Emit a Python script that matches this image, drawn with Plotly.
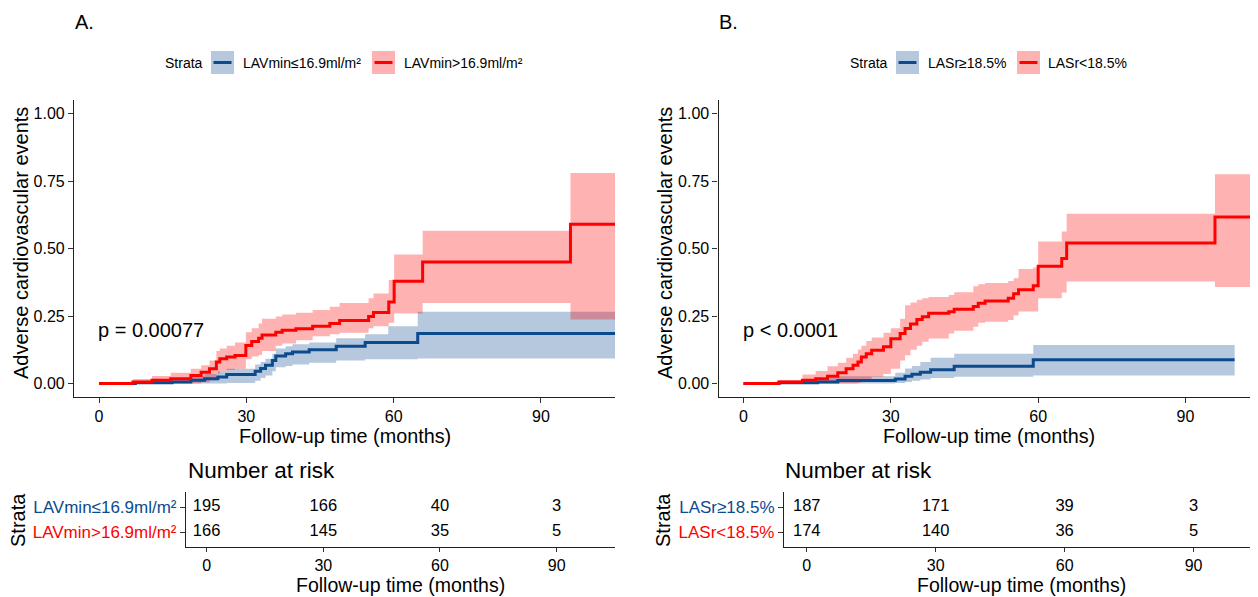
import plotly.graph_objects as go

W, H = 1258, 597
OFF = 8  # page body margin of the browser
FW, FH = W - OFF, H - OFF
FONT = "Liberation Sans, Arial, sans-serif"

BLUE = "#0C4A8E"
RED = "#FF0000"
BLUE_BAND = "rgba(12,74,142,0.30)"
RED_BAND = "rgba(255,0,0,0.30)"

# ---------------- Panel A data ----------------
a_labels = ["LAVmin≤16.9ml/m²", "LAVmin>16.9ml/m²"]
a_pval = "p = 0.00077"

a_blue_t = [0, 7.4, 14.9, 18.7, 21.5, 24.2, 26.0, 31.8, 32.9, 33.9, 35.3, 36.0, 38.0, 39.4, 42.8, 48.3, 54.2, 58.9, 64.9]
a_blue_y = [0, 0.003, 0.006, 0.012, 0.018, 0.024, 0.033, 0.045, 0.056, 0.068, 0.085, 0.102, 0.11, 0.117, 0.125, 0.138, 0.152, 0.152, 0.185]
a_blue_hi = [0, 0.01, 0.018, 0.027, 0.035, 0.045, 0.055, 0.07, 0.08, 0.092, 0.11, 0.13, 0.138, 0.145, 0.152, 0.168, 0.182, 0.212, 0.266]
a_blue_lo = [0, 0, 0, 0, 0, 0, 0.002, 0.01, 0.02, 0.03, 0.045, 0.06, 0.065, 0.07, 0.077, 0.085, 0.09, 0.09, 0.093]
a_blue_end = 105.2

a_red_t = [0, 6.9, 10.8, 14.6, 18.7, 20.8, 22.5, 23.9, 24.6, 26.0, 27.7, 29.9, 31.1, 32.5, 33.2, 36.0, 37.3, 40.1, 43.5, 47.0, 49.0, 54.9, 55.9, 59.0, 60.1, 65.9, 96.0]
a_red_y = [0, 0.006, 0.012, 0.018, 0.03, 0.042, 0.055, 0.08, 0.092, 0.098, 0.104, 0.141, 0.156, 0.168, 0.18, 0.19, 0.197, 0.203, 0.212, 0.222, 0.233, 0.248, 0.263, 0.302, 0.379, 0.45, 0.59]
a_red_hi = [0, 0.017, 0.028, 0.04, 0.055, 0.068, 0.085, 0.12, 0.13, 0.14, 0.152, 0.19, 0.205, 0.222, 0.24, 0.248, 0.256, 0.262, 0.272, 0.284, 0.298, 0.316, 0.333, 0.383, 0.478, 0.566, 0.78]
a_red_lo = [0, 0, 0, 0, 0, 0.005, 0.012, 0.035, 0.045, 0.05, 0.055, 0.09, 0.1, 0.106, 0.12, 0.14, 0.148, 0.16, 0.175, 0.182, 0.188, 0.205, 0.212, 0.225, 0.259, 0.298, 0.237]
a_red_end = 105.2

a_risk_times = [0, 30, 60, 90]
a_risk_blue = [195, 166, 40, 3]
a_risk_red = [166, 145, 35, 5]

# ---------------- Panel B data ----------------
b_labels = ["LASr≥18.5%", "LASr<18.5%"]
b_pval = "p < 0.0001"

b_blue_t = [0, 7.2, 15.1, 19.2, 30.9, 32.9, 34.3, 36.0, 38.1, 42.9, 59.0]
b_blue_y = [0, 0.003, 0.006, 0.011, 0.017, 0.027, 0.034, 0.042, 0.051, 0.064, 0.088]
b_blue_hi = [0, 0.01, 0.02, 0.027, 0.04, 0.056, 0.065, 0.08, 0.095, 0.11, 0.143]
b_blue_lo = [0, 0, 0, 0, 0.002, 0.006, 0.01, 0.015, 0.02, 0.025, 0.03]
b_blue_end = 100.0

b_red_t = [0, 7.2, 12.0, 14.7, 17.1, 19.2, 20.9, 22.3, 23.3, 24.0, 25.0, 26.1, 28.5, 30.0, 31.9, 32.9, 34.0, 35.3, 36.4, 37.7, 41.8, 42.9, 46.8, 47.8, 49.2, 53.9, 55.0, 56.0, 59.0, 60.0, 64.8, 65.8, 96.0]
b_red_y = [0, 0.006, 0.012, 0.018, 0.027, 0.04, 0.055, 0.068, 0.08, 0.098, 0.11, 0.123, 0.136, 0.166, 0.185, 0.204, 0.22, 0.237, 0.247, 0.26, 0.266, 0.275, 0.285, 0.297, 0.306, 0.316, 0.332, 0.347, 0.362, 0.434, 0.463, 0.52, 0.617]
b_red_hi = [0, 0.013, 0.033, 0.046, 0.064, 0.077, 0.095, 0.11, 0.126, 0.14, 0.157, 0.17, 0.188, 0.205, 0.24, 0.29, 0.3, 0.31, 0.316, 0.32, 0.328, 0.338, 0.36, 0.368, 0.372, 0.38, 0.39, 0.424, 0.43, 0.526, 0.563, 0.629, 0.775]
b_red_lo = [0, 0, 0, 0, 0, 0, 0, 0, 0.003, 0.008, 0.015, 0.025, 0.035, 0.055, 0.085, 0.105, 0.125, 0.14, 0.155, 0.167, 0.185, 0.195, 0.21, 0.225, 0.229, 0.235, 0.252, 0.267, 0.267, 0.316, 0.337, 0.378, 0.357]
b_red_end = 106.0

b_risk_times = [0, 30, 60, 90]
b_risk_blue = [187, 171, 39, 3]
b_risk_red = [174, 140, 36, 5]

x_ticks = [0, 30, 60, 90]
y_ticks = [0, 0.25, 0.5, 0.75, 1.0]
y_tick_text = ["0.00", "0.25", "0.50", "0.75", "1.00"]


def px(x):
    return (x - OFF) / FW


def py(y):
    return 1 - (y - OFF) / FH


fig = go.Figure()


def ext(t, v, end):
    return list(t) + [end], list(v) + [v[-1]]


def add_band(t, lo, hi, end, color, xa, ya):
    xs, ylo = ext(t, lo, end)
    _, yhi = ext(t, hi, end)
    fig.add_trace(go.Scatter(x=xs, y=ylo, mode="lines", line=dict(width=0, shape="hv"),
                             xaxis=xa, yaxis=ya, hoverinfo="skip", showlegend=False))
    fig.add_trace(go.Scatter(x=xs, y=yhi, mode="lines", line=dict(width=0, shape="hv"),
                             fill="tonexty", fillcolor=color,
                             xaxis=xa, yaxis=ya, hoverinfo="skip", showlegend=False))


def add_line(t, v, end, color, xa, ya):
    xs, ys = ext(t, v, end)
    fig.add_trace(go.Scatter(x=xs, y=ys, mode="lines", line=dict(width=3, shape="hv", color=color),
                             xaxis=xa, yaxis=ya, hoverinfo="skip", showlegend=False))


# Panel A curves
add_band(a_blue_t, a_blue_lo, a_blue_hi, a_blue_end, BLUE_BAND, "x", "y")
add_band(a_red_t, a_red_lo, a_red_hi, a_red_end, RED_BAND, "x", "y")
add_line(a_blue_t, a_blue_y, a_blue_end, BLUE, "x", "y")
add_line(a_red_t, a_red_y, a_red_end, RED, "x", "y")

# Panel B curves
add_band(b_blue_t, b_blue_lo, b_blue_hi, b_blue_end, BLUE_BAND, "x2", "y2")
add_band(b_red_t, b_red_lo, b_red_hi, b_red_end, RED_BAND, "x2", "y2")
add_line(b_blue_t, b_blue_y, b_blue_end, BLUE, "x2", "y2")
add_line(b_red_t, b_red_y, b_red_end, RED, "x2", "y2")

# Risk tables
for times, blue_n, red_n, xa, ya in [
    (a_risk_times, a_risk_blue, a_risk_red, "x3", "y3"),
    (b_risk_times, b_risk_blue, b_risk_red, "x4", "y4"),
]:
    fig.add_trace(go.Scatter(x=times, y=[2] * len(times), mode="text", text=[str(n) for n in blue_n],
                             textfont=dict(size=16.5, color="black", family=FONT),
                             xaxis=xa, yaxis=ya, hoverinfo="skip", showlegend=False))
    fig.add_trace(go.Scatter(x=times, y=[1] * len(times), mode="text", text=[str(n) for n in red_n],
                             textfont=dict(size=16.5, color="black", family=FONT),
                             xaxis=xa, yaxis=ya, hoverinfo="skip", showlegend=False))

axis_common = dict(showgrid=False, zeroline=False, showline=True, linecolor="#222", linewidth=1.2,
                   ticks="outside", ticklen=5, tickwidth=1.1, tickcolor="#333",
                   tickfont=dict(size=16, color="black", family=FONT), fixedrange=True)
table_y_common = dict(axis_common)
table_y_common["tickfont"] = dict(size=17, color="black", family=FONT)
table_x_common = dict(axis_common)
table_x_common["ticklen"] = 4

main_y_dom = [py(397), py(100)]
tab_y_dom = [py(547), py(492)]

fig.update_layout(
    width=FW, height=FH,
    margin=dict(l=0, r=0, t=0, b=0),
    paper_bgcolor="white", plot_bgcolor="rgba(0,0,0,0)",
    showlegend=False,
    font=dict(family=FONT, color="black"),
    xaxis=dict(domain=[px(74), px(615)], range=[-5.09, 105.07], anchor="y",
               tickvals=x_ticks, **axis_common),
    yaxis=dict(domain=main_y_dom, range=[-0.05, 1.05], anchor="x",
               tickvals=y_ticks, ticktext=y_tick_text, **axis_common),
    xaxis2=dict(domain=[px(718.5), 1.0], range=[-5.09, 104.76], anchor="y2",
                tickvals=x_ticks, **axis_common),
    yaxis2=dict(domain=main_y_dom, range=[-0.05, 1.05], anchor="x2",
                tickvals=y_ticks, ticktext=y_tick_text, **axis_common),
    xaxis3=dict(domain=[px(186), px(615)], range=[-5.3, 105.0], anchor="y3",
                tickvals=x_ticks, **table_x_common),
    yaxis3=dict(domain=tab_y_dom, range=[0.4, 2.6], anchor="x3", tickvals=[2, 1],
                ticktext=[f'<span style="color:{BLUE}">{a_labels[0]}</span>',
                          f'<span style="color:{RED}">{a_labels[1]}</span>'],
                **table_y_common),
    xaxis4=dict(domain=[px(784), 1.0], range=[-5.3, 105.0], anchor="y4",
                tickvals=x_ticks, **table_x_common),
    yaxis4=dict(domain=tab_y_dom, range=[0.4, 2.6], anchor="x4", tickvals=[2, 1],
                ticktext=[f'<span style="color:{BLUE}">{b_labels[0]}</span>',
                          f'<span style="color:{RED}">{b_labels[1]}</span>'],
                **table_y_common),
)

ann = []


def text(x, y, s, size, xanchor="center", angle=0, color="black"):
    ann.append(dict(x=px(x), y=py(y), xref="paper", yref="paper", text=s, showarrow=False,
                    xanchor=xanchor, yanchor="middle", textangle=angle,
                    font=dict(size=size, color=color, family=FONT)))


# panel letters
text(73, 22, "A.", 20, "left")
text(717, 22, "B.", 20, "left")
# main axis titles
text(21, 243, "Adverse cardiovascular events", 20, angle=-90)
text(665, 243, "Adverse cardiovascular events", 20, angle=-90)
text(345, 436, "Follow-up time (months)", 19.8)
text(989, 436, "Follow-up time (months)", 19.8)
# risk table titles
text(186, 470, "Number at risk", 22.5, "left")
text(783, 470, "Number at risk", 22.5, "left")
text(18, 520, "Strata", 20, angle=-90)
text(663, 520, "Strata", 20, angle=-90)
text(400, 585, "Follow-up time (months)", 19.5)
text(1021, 585, "Follow-up time (months)", 19.5)

# p-values in data coordinates
ann.append(dict(x=-0.6, y=0.198, xref="x", yref="y", text=a_pval, showarrow=False, xanchor="left",
                yanchor="middle", font=dict(size=20, color="black", family=FONT)))
ann.append(dict(x=-0.6, y=0.198, xref="x2", yref="y2", text=b_pval, showarrow=False, xanchor="left",
                yanchor="middle", font=dict(size=20, color="black", family=FONT)))

shapes = []


def legend(strata_x, key1_x, lab1_x, key2_x, lab2_x, labels):
    yc = 62.5
    text(strata_x, yc, "Strata", 14, "left")
    for kx, lx, lab, band, col in [(key1_x, lab1_x, labels[0], BLUE_BAND, BLUE),
                                   (key2_x, lab2_x, labels[1], RED_BAND, RED)]:
        shapes.append(dict(type="rect", xref="paper", yref="paper", x0=px(kx), x1=px(kx + 23),
                           y0=py(yc + 11.5), y1=py(yc - 11.5), fillcolor=band, line=dict(width=0)))
        shapes.append(dict(type="line", xref="paper", yref="paper", x0=px(kx + 2.5), x1=px(kx + 20.5),
                           y0=py(yc), y1=py(yc), line=dict(color=col, width=3)))
        text(lx, yc, lab, 14, "left")


legend(163, 211, 241, 372, 402, a_labels)
legend(848, 896, 926, 1017, 1046, b_labels)

fig.update_layout(annotations=ann, shapes=shapes)

fig.write_html("out.html")
